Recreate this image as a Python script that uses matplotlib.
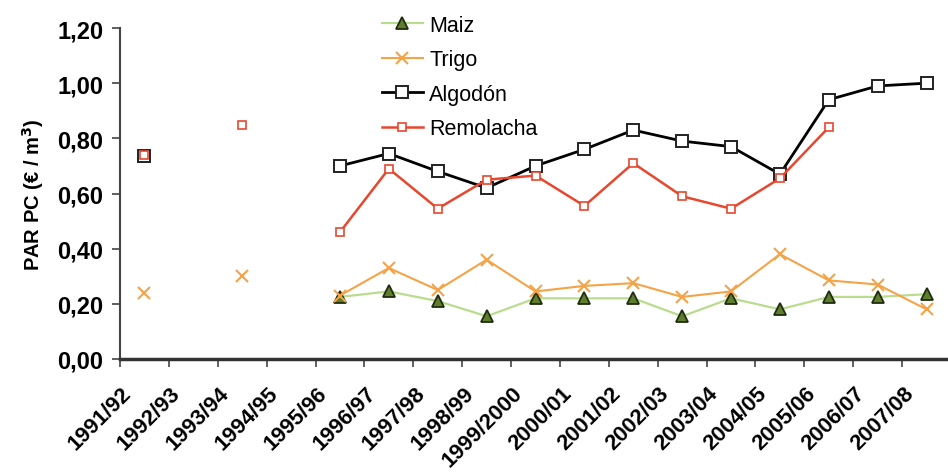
import numpy as np
import matplotlib
matplotlib.use("Agg")
from matplotlib import pyplot as plt
from matplotlib.ticker import FixedLocator, FuncFormatter
import matplotlib.transforms as mtransforms

nan = np.nan

campanas = ['1991/92', '1992/93', '1993/94', '1994/95', '1995/96', '1996/97',
            '1997/98', '1998/99', '1999/2000', '2000/01', '2001/02', '2002/03',
            '2003/04', '2004/05', '2005/06', '2006/07', '2007/08']

maiz = [nan, nan, nan, nan, 0.225, 0.245, 0.21, 0.155, 0.22, 0.22, 0.22,
        0.155, 0.22, 0.18, 0.225, 0.225, 0.235]
trigo = [0.24, nan, 0.30, nan, 0.23, 0.33, 0.25, 0.36, 0.245, 0.265, 0.275,
         0.225, 0.245, 0.38, 0.285, 0.27, 0.18]
algodon = [0.735, nan, nan, nan, 0.70, 0.745, 0.68, 0.62, 0.70, 0.76, 0.83,
           0.79, 0.77, 0.67, 0.94, 0.99, 1.00]
remolacha = [0.74, nan, 0.85, nan, 0.46, 0.69, 0.545, 0.65, 0.665, 0.555, 0.71,
             0.59, 0.545, 0.655, 0.84, nan, nan]

plt.rcParams['font.family'] = ['Liberation Sans', 'DejaVu Sans']

fig = plt.figure(figsize=(9.48, 4.77), dpi=100)
ax = fig.add_axes([120 / 948, 117 / 477, 831 / 948, 331 / 477])

x = np.arange(len(campanas)) + 0.5

ax.plot(x, maiz, color='#b9dc8e', lw=1.6, marker='^', ms=8,
        mfc='#5f7d2a', mec='#1f2d10', mew=1.3, label='Maiz', zorder=3)
ax.plot(x, trigo, color='#f5a347', lw=1.5, marker='x', ms=9,
        mec='#f5a347', mew=1.5, label='Trigo', zorder=3)
ax.plot(x, algodon, color='black', lw=2.0, marker='s', ms=8.5,
        mfc='white', mec='#222222', mew=1.4, label='Algodón', zorder=4)
ax.plot(x, remolacha, color='#e8472e', lw=1.8, marker='s', ms=6,
        mfc='white', mec='#e8472e', mew=1.2, label='Remolacha', zorder=5)

ax.set_xlim(0, len(campanas))
ax.set_ylim(0, 1.2)
ax.set_yticks(np.arange(0, 1.21, 0.2))
ax.yaxis.set_major_formatter(FuncFormatter(lambda v, p: f'{v:.2f}'.replace('.', ',')))

ax.xaxis.set_major_locator(FixedLocator(x))
ax.xaxis.set_minor_locator(FixedLocator(np.arange(0, len(campanas) + 1)))
ax.set_xticklabels(campanas, rotation=45, ha='right', va='center',
                   rotation_mode='anchor', fontsize=15.8, fontweight='bold')
ax.tick_params(axis='x', which='major', length=0, pad=22)
ax.tick_params(axis='x', which='minor', length=6, width=1.2, color='#444444', direction='out')
ax.tick_params(axis='y', length=6, width=1.2, color='#444444', labelsize=17, pad=6)
for lab in ax.get_yticklabels():
    lab.set_fontweight('bold')

offset = mtransforms.ScaledTranslation(-16 / 100, 0, fig.dpi_scale_trans)
for lab in ax.get_xticklabels():
    lab.set_transform(lab.get_transform() + offset)

ax.set_ylabel('PAR PC (€ / m$^\\mathbf{3}$)', fontsize=14.5, fontweight='bold', labelpad=8)

for s in ['top', 'right']:
    ax.spines[s].set_visible(False)
ax.spines['left'].set_color('#444444')
ax.spines['left'].set_linewidth(1.5)
ax.spines['bottom'].set_color('#333333')
ax.spines['bottom'].set_linewidth(2.5)

fig.legend(loc='upper left', bbox_to_anchor=(382 / 948, 1 - 16 / 477),
           frameon=False, fontsize=15.5, handlelength=1.9, handletextpad=0.3,
           labelspacing=0.62, borderpad=0, borderaxespad=0)

fig.savefig('out.png', dpi=100)
